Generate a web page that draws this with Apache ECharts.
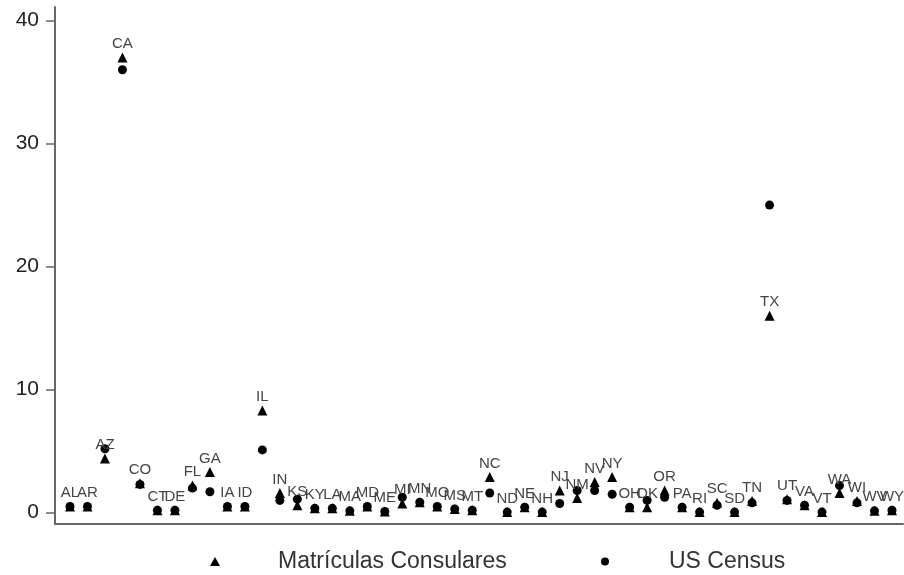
<!DOCTYPE html>
<html>
<head>
<meta charset="utf-8">
<script src="https://cdn.jsdelivr.net/npm/echarts@6/dist/echarts.min.js"></script>
<style>html,body{margin:0;padding:0;background:#fff}#c{width:904px;height:575px}</style>
</head>
<body>
<div id="c"></div>
<script>
const states = ["AL","AR","AZ","CA","CO","CT","DE","FL","GA","IA","ID","IL","IN","KS","KY","LA","MA","MD","ME","MI","MN","MO","MS","MT","NC","ND","NE","NH","NJ","NM","NV","NY","OH","OK","OR","PA","RI","SC","SD","TN","TX","UT","VA","VT","WA","WI","WV","WY"];
const matriculas = [0.5,0.5,4.4,37.0,2.4,0.2,0.2,2.2,3.3,0.5,0.5,8.3,1.6,0.6,0.35,0.35,0.15,0.5,0.1,0.75,0.85,0.5,0.3,0.2,2.9,0.05,0.45,0.05,1.8,1.2,2.5,2.9,0.45,0.45,1.8,0.45,0.05,0.8,0.05,0.95,16.0,1.1,0.6,0.05,1.6,0.95,0.15,0.2];
const census = [0.5,0.5,5.2,36.0,2.3,0.2,0.2,2.0,1.7,0.5,0.5,5.1,1.0,1.1,0.35,0.35,0.15,0.5,0.1,1.25,0.85,0.5,0.3,0.2,1.6,0.05,0.45,0.05,0.75,1.8,1.8,1.5,0.45,1.0,1.25,0.45,0.05,0.6,0.05,0.8,25.0,1.0,0.6,0.05,2.2,0.8,0.15,0.2];
const yTicks = [0,10,20,30,40];
const seriesNames = ["Matrículas Consulares","US Census"];

const triData = states.map((s,i)=>[i, matriculas[i], s]);
const cirData = states.map((s,i)=>[i, census[i], s]);
const axisColor = '#666';
const font = 'Liberation Sans, Arial, Helvetica, sans-serif';

const chart = echarts.init(document.getElementById('c'), null, {renderer:'canvas'});
chart.setOption({
  animation:false,
  backgroundColor:'#fff',
  textStyle:{fontFamily:font},
  grid:{left:55,right:1,top:7,bottom:51,containLabel:false},
  xAxis:{type:'value',min:-0.857,max:47.63,
    axisLine:{show:true,onZero:false,lineStyle:{color:axisColor,width:2}},
    axisTick:{show:false},axisLabel:{show:false},splitLine:{show:false}},
  yAxis:{type:'value',min:-0.92,max:41.1,
    axisLine:{show:true,onZero:false,lineStyle:{color:axisColor,width:2}},
    axisTick:{show:true,length:9,customValues:yTicks,lineStyle:{color:axisColor,width:1.5}},
    axisLabel:{show:true,customValues:yTicks,fontSize:21,color:'#222',margin:16,fontFamily:font},
    splitLine:{show:false}},
  legend:[
    {data:[{name:seriesNames[0],icon:'triangle'}],left:205,top:545,itemWidth:10,itemHeight:9,
     textStyle:{fontSize:23,color:'#333',fontFamily:font,padding:[0,0,0,53]}},
    {data:[{name:seriesNames[1],icon:'circle'}],left:596,top:545,itemWidth:8,itemHeight:8,
     textStyle:{fontSize:23,color:'#333',fontFamily:font,padding:[0,0,0,55]}}
  ],
  series:[
    {name:seriesNames[1],type:'scatter',symbol:'circle',symbolSize:9,
     itemStyle:{color:'#000',opacity:1},data:cirData,z:2},
    {name:seriesNames[0],type:'scatter',symbol:'triangle',symbolSize:10,
     itemStyle:{color:'#000',opacity:1},data:triData,z:3,
     label:{show:true,position:'top',distance:1,fontSize:15,color:'#444',fontFamily:font,
       formatter:p=>p.data[2]},
     labelLayout:{hideOverlap:false}}
  ]
});
</script>
</body>
</html>
